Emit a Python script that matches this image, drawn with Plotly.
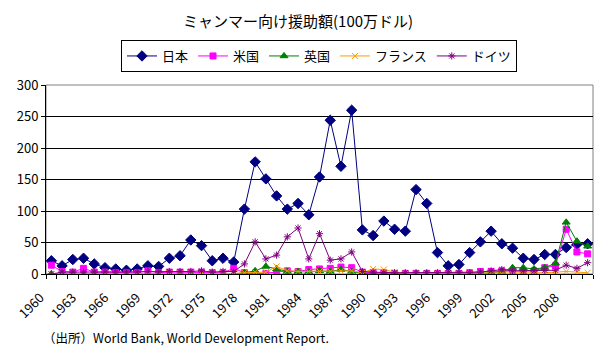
import plotly.graph_objects as go

years = list(range(1960, 2011))

japan = [21, 13, 23, 25, 16, 10, 8, 6, 8, 13,
         12, 25, 29, 54, 45, 21, 25, 19, 103, 178,
         151, 124, 103, 112, 94, 154, 244, 171, 260, 70,
         61, 84, 71, 68, 134, 112, 34, 13, 15, 34,
         51, 68, 48, 41, 25, 23, 31, 31, 42, 47,
         48]
usa = [14, 4, 3, 9, 3, 3, 2, 2, 2, 5,
       2, 3, 3, 3, 3, 2, 2, 9, 2, 0,
       1, 3, 5, 4, 7, 8, 9, 11, 10, 3,
       2, 2, 1, 1, 1, 1, 1, 1, 1, 2,
       4, 4, 5, 4, 4, 5, 10, 13, 71, 35,
       32]
uk = [0, 0, 0, 0, 0, 0, 0, 0, 0, 0,
      0, 0, 0, 0, 0, 0, 0, 0, 2, 5,
      12, 8, 4, 4, 3, 5, 4, 7, 4, 1,
      0, 0, 0, 0, 0, 0, 0, 0, 0, 0,
      1, 2, 4, 10, 10, 8, 10, 17, 82, 52,
      44]
france = [0, 0, 0, 0, 0, 0, 0, 0, 0, 0,
          0, 1, 1, 1, 1, 1, 1, 1, 2, 3,
          3, 12, 5, 4, 4, 4, 4, 5, 5, 2,
          8, 7, 3, 1, 1, 1, 1, 1, 1, 1,
          1, 1, 1, 1, 1, 2, 2, 3, 4, 3,
          2]
germany = [0, 3, 3, 3, 3, 3, 3, 3, 3, 4,
           3, 4, 4, 4, 5, 3, 4, 4, 16, 51,
           24, 30, 59, 73, 24, 64, 22, 24, 35, 4,
           3, 2, 2, 2, 2, 2, 2, 2, 2, 2,
           3, 5, 7, 5, 5, 5, 6, 6, 14, 9,
           18]

series_names = ["日本", "米国", "英国", "フランス", "ドイツ"]
tick_years = list(range(1960, 2011, 3))

FONT = "Noto Sans CJK JP"

styles = [
    dict(color="#000080", symbol="diamond", size=8),
    dict(color="#FF00FF", symbol="square", size=6),
    dict(color="#008000", symbol="triangle-up", size=7),
    dict(color="#FF9900", symbol="x-thin-open", size=6),
    dict(color="#800080", symbol="asterisk-open", size=6),
]

fig = go.Figure()
for name, vals, st in zip(series_names, [japan, usa, uk, france, germany], styles):
    fig.add_trace(go.Scatter(
        x=years, y=vals, name=name, mode="lines+markers",
        line=dict(color=st["color"], width=1),
        marker=dict(symbol=st["symbol"], size=st["size"], color=st["color"],
                    line=dict(color=st["color"], width=1)),
    ))

# page body has an 8px margin; figure pixel = screen pixel - 8
W, H = 595, 348
L, T, R, B = 38, 77, 10, 82
PW, PH = W - L - R, H - T - B


def px(x):
    return (x - 8 - L) / PW


def py(y):
    return (H - B - (y - 8)) / PH


fig.update_layout(
    width=W, height=H,
    margin=dict(l=L, r=R, t=T, b=B, autoexpand=False),
    paper_bgcolor="white", plot_bgcolor="white",
    font=dict(family=FONT, color="black", size=12),
    showlegend=True,
    legend=dict(orientation="h", x=px(319), y=py(40),
                xanchor="center", yanchor="top",
                bordercolor="black", borderwidth=1, font=dict(size=13),
                itemwidth=30, tracegroupgap=0),
    xaxis=dict(range=[1959.5, 2010.5], tickmode="array", tickvals=tick_years,
               ticktext=[str(y) for y in tick_years], tickangle=-45,
               showgrid=False, showline=True, linecolor="black", linewidth=1,
               ticks="", zeroline=False, tickfont=dict(size=13),
               ticklabelstandoff=10, ticklabelshift=-11,
               minor=dict(tick0=1959.5, dtick=1, ticks="outside", ticklen=4,
                          tickcolor="black", showgrid=False)),
    yaxis=dict(range=[0, 300], dtick=50, showgrid=True, gridcolor="black",
               gridwidth=1, showline=True, linecolor="black", linewidth=1,
               ticks="outside", ticklen=4, tickcolor="black", zeroline=False,
               tickfont=dict(size=13)),
    shapes=[dict(type="rect", xref="paper", yref="paper", x0=0, x1=1, y0=0, y1=1,
                 line=dict(color="#808080", width=1), layer="below")],
    annotations=[
        dict(text="ミャンマー向け援助額(100万ドル)", xref="paper", yref="paper",
             x=px(298), y=py(20), xanchor="center", yanchor="middle",
             showarrow=False, font=dict(size=15)),
        dict(text="（出所）World Bank, World Development Report.", xref="paper", yref="paper",
             x=px(41), y=py(337), xanchor="left", yanchor="middle",
             showarrow=False, font=dict(size=12.5)),
    ],
)

fig.write_html("out.html")
